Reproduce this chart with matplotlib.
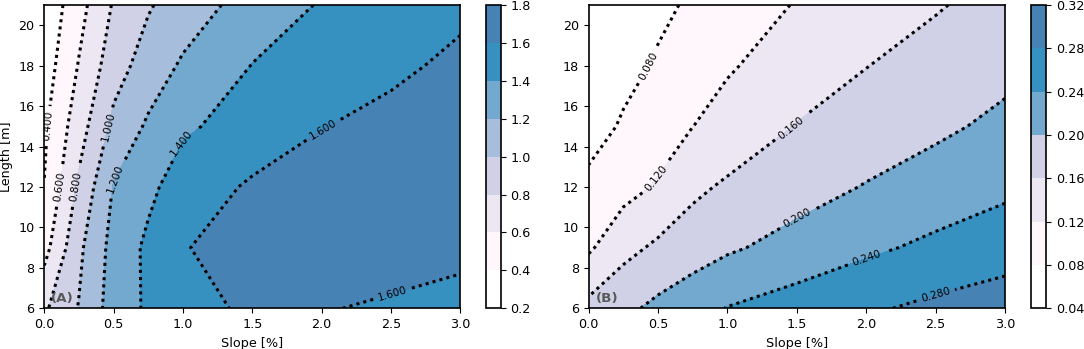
import matplotlib
matplotlib.use("Agg")
import matplotlib.pyplot as plt
import numpy as np

# grid of the two runs
slope = [0.0, 0.25, 0.5, 0.75, 1.0, 1.5, 2.0, 2.5, 3.0]
length = [6, 9, 12, 15, 18, 21]

# panel (A), one row per length
values_a = [
    [0.77, 1.01, 1.29, 1.43, 1.56, 1.62, 1.61, 1.577, 1.54],
    [0.53, 0.96, 1.27, 1.44, 1.59, 1.68, 1.69, 1.676, 1.646],
    [0.405, 0.84, 1.214, 1.355, 1.496, 1.626, 1.69, 1.70, 1.70],
    [0.37, 0.711, 1.054, 1.229, 1.37, 1.484, 1.594, 1.654, 1.68],
    [0.30, 0.613, 0.91, 1.094, 1.226, 1.405, 1.483, 1.562, 1.64],
    [0.25, 0.529, 0.819, 0.981, 1.098, 1.282, 1.416, 1.488, 1.56],
]
levels_a = [0.2, 0.4, 0.6, 0.8, 1.0, 1.2, 1.4, 1.6, 1.8]
lines_a = [0.4, 0.6, 0.8, 1.0, 1.2, 1.4, 1.6]

# panel (B)
values_b = [
    [0.171, 0.191, 0.2093, 0.226, 0.2413, 0.2579, 0.2744, 0.289, 0.300],
    [0.1143, 0.148, 0.1671, 0.1808, 0.1945, 0.2145, 0.2327, 0.2484, 0.2625],
    [0.09, 0.1063, 0.1241, 0.152, 0.1656, 0.1841, 0.2021, 0.217, 0.2318],
    [0.0627, 0.0846, 0.1022, 0.1197, 0.1343, 0.1616, 0.1772, 0.1928, 0.2085],
    [0.052, 0.0683, 0.0844, 0.1003, 0.1162, 0.1383, 0.1592, 0.1747, 0.19],
    [0.045, 0.0585, 0.0721, 0.0853, 0.0981, 0.1224, 0.1397, 0.1569, 0.174],
]
levels_b = [0.04, 0.08, 0.12, 0.16, 0.20, 0.24, 0.28, 0.32]
lines_b = [0.08, 0.12, 0.16, 0.20, 0.24, 0.28]

colors_a = ['#ffffff', '#fff7fb', '#ece7f2', '#d0d1e6', '#a6bddb', '#74a9cf', '#3690c0', '#4682b4']
colors_b = ['#ffffff', '#fff7fb', '#ece7f2', '#d0d1e6', '#74a9cf', '#3690c0', '#4682b4']

# where the inline labels sit (data coords)
label_pos_a = [(0.04, 15), (0.12, 12), (0.23, 12), (0.44, 15), (0.48, 12.5),
               (0.98, 14.2), (2.0, 15.0), (2.5, 7.0)]
label_pos_b = [(0.43, 18), (0.49, 12.4), (1.45, 15), (1.5, 10.5), (2.0, 8.55), (2.5, 6.65)]

FS = 9.2
W, H = 1084, 349


def box(x0, x1, y0=5, y1=308.3):
    return [x0 / W, 1 - y1 / H, (x1 - x0) / W, (y1 - y0) / H]


def panel(fig, ax, cax, z, levels, lines, colors, label_pos, tag, ylabel):
    X, Y = np.meshgrid(slope, length)
    Z = np.array(z)
    cf = ax.contourf(X, Y, Z, levels=levels, colors=colors)
    cs = ax.contour(X, Y, Z, levels=lines, colors='k',
                    linestyles=[(0, (1.0, 1.35))], linewidths=2.2)
    ax.clabel(cs, fmt='%.3f', fontsize=7.6, inline=True, manual=label_pos)
    ax.set_xlim(0, 3)
    ax.set_ylim(6, 21)
    ax.set_xticks(np.arange(0, 3.01, 0.5))
    ax.set_yticks(np.arange(6, 21, 2))
    ax.tick_params(labelsize=FS)
    ax.set_xlabel('Slope [%]', fontsize=FS)
    if ylabel:
        ax.set_ylabel('Length [m]', fontsize=FS)
    for s in ax.spines.values():
        s.set_linewidth(1.2)
    ax.text(0.05, 6.5, tag, fontsize=FS + 0.5, fontweight='bold', color='0.35', va='center')

    cb = fig.colorbar(cf, cax=cax, ticks=levels)
    cb.ax.tick_params(labelsize=FS)
    cb.outline.set_linewidth(1.2)


fig = plt.figure(figsize=(W / 100, H / 100), dpi=100)
axA = fig.add_axes(box(44.3, 460.3))
caxA = fig.add_axes(box(486, 500.7))
axB = fig.add_axes(box(588.7, 1005))
caxB = fig.add_axes(box(1031, 1046))

panel(fig, axA, caxA, values_a, levels_a, lines_a, colors_a, label_pos_a, '(A)', True)
panel(fig, axB, caxB, values_b, levels_b, lines_b, colors_b, label_pos_b, '(B)', False)

fig.savefig('out.png', dpi=100)
